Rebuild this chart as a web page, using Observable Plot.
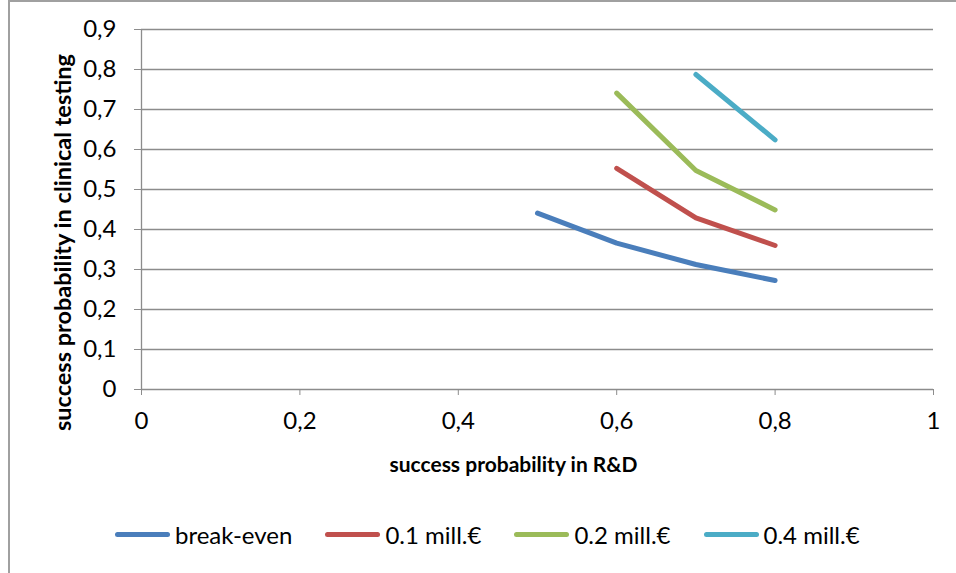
<!DOCTYPE html>
<html>
<head>
<meta charset="utf-8">
<script src="https://cdn.jsdelivr.net/npm/d3@7"></script>
<script src="https://cdn.jsdelivr.net/npm/@observablehq/plot@0.6"></script>
<style>
  html, body { margin: 0; padding: 0; background: #fff; }
  #wrap { position: relative; width: 956px; height: 573px; overflow: hidden; background: #fff; font-family: Lato, "Open Sans", sans-serif; }
  #frame { position: absolute; left: 8px; top: 0px; width: 1200px; height: 1200px; border: 2px solid #a0a0a0; box-sizing: border-box; }
  #chart { position: absolute; left: 0; top: 0; }
  #legend { position: absolute; left: 115px; top: 520px; display: flex; align-items: center; gap: 33px; font-size: 24px; color: #000; }
  .item { display: flex; align-items: center; }
  .swatch { width: 55px; height: 5px; border-radius: 3px; margin-right: 5px; }
</style>
</head>
<body>
<div id="wrap">
  <div id="frame"></div>
  <div id="chart"></div>
  <div id="legend"></div>
</div>
<script>
// ---- data ----
const seriesNames = ["break-even", "0.1 mill.€", "0.2 mill.€", "0.4 mill.€"];
const seriesColors = ["#4a7ebb", "#c0504d", "#9bbb59", "#4bacc6"];

const xBreakEven = [0.5, 0.6, 0.7, 0.8];
const yBreakEven = [0.441, 0.366, 0.3125, 0.2725];

const xMill01 = [0.6, 0.7, 0.8];
const yMill01 = [0.553, 0.429, 0.36];

const xMill02 = [0.6, 0.7, 0.8];
const yMill02 = [0.741, 0.5475, 0.449];

const xMill04 = [0.7, 0.8];
const yMill04 = [0.7875, 0.624];

const xTicks = [0, 0.2, 0.4, 0.6, 0.8, 1];
const yTicks = [0, 0.1, 0.2, 0.3, 0.4, 0.5, 0.6, 0.7, 0.8, 0.9];

const xTitle = "success probability in R&D";
const yTitle = "success probability in clinical testing";

// ---- build table ----
const seriesX = [xBreakEven, xMill01, xMill02, xMill04];
const seriesY = [yBreakEven, yMill01, yMill02, yMill04];
const rows = [];
seriesNames.forEach((name, i) => {
  seriesX[i].forEach((x, j) => rows.push({series: name, x, y: seriesY[i][j]}));
});

const fmt = d => String(+d.toFixed(1)).replace(".", ",");
const grid = "#8c8c8c";

const chart = Plot.plot({
  width: 956,
  height: 500,
  marginLeft: 141,
  marginRight: 23,
  marginTop: 29,
  marginBottom: 111,
  style: {fontFamily: "Lato, 'Open Sans', sans-serif", fontSize: "24px", color: "#000", background: "transparent", overflow: "visible"},
  x: {domain: [0, 1]},
  y: {domain: [0, 0.9]},
  color: {domain: seriesNames, range: seriesColors},
  marks: [
    Plot.ruleY(yTicks, {stroke: grid, strokeWidth: 1.3}),
    Plot.ruleX([0], {stroke: grid, strokeWidth: 1.3}),
    Plot.axisY({ticks: yTicks, tickFormat: fmt, tickSize: 7, tickPadding: 18, stroke: grid, fill: "#000", fontSize: 24, label: null}),
    Plot.axisX({ticks: xTicks, tickFormat: fmt, tickSize: 6, tickPadding: 16, stroke: grid, fill: "#000", fontSize: 24, label: null}),
    Plot.line(rows, {x: "x", y: "y", z: "series", stroke: "series", strokeWidth: 5, strokeLinecap: "round", strokeLinejoin: "round"}),
    Plot.text([yTitle], {frameAnchor: "left", dx: -78, dy: 33, rotate: -90, textAnchor: "middle", lineAnchor: "middle", fontWeight: "bold", fontSize: 23.5, fill: "#000"}),
    Plot.text([xTitle], {frameAnchor: "bottom", dx: -24, dy: 76, textAnchor: "middle", lineAnchor: "middle", fontWeight: "bold", fontSize: 21, fill: "#000"})
  ]
});
document.getElementById("chart").appendChild(chart);

// ---- legend ----
const legend = document.getElementById("legend");
seriesNames.forEach((name, i) => {
  const item = document.createElement("div");
  item.className = "item";
  const sw = document.createElement("div");
  sw.className = "swatch";
  sw.style.background = seriesColors[i];
  const label = document.createElement("span");
  label.textContent = name;
  item.appendChild(sw);
  item.appendChild(label);
  legend.appendChild(item);
});
</script>
</body>
</html>
